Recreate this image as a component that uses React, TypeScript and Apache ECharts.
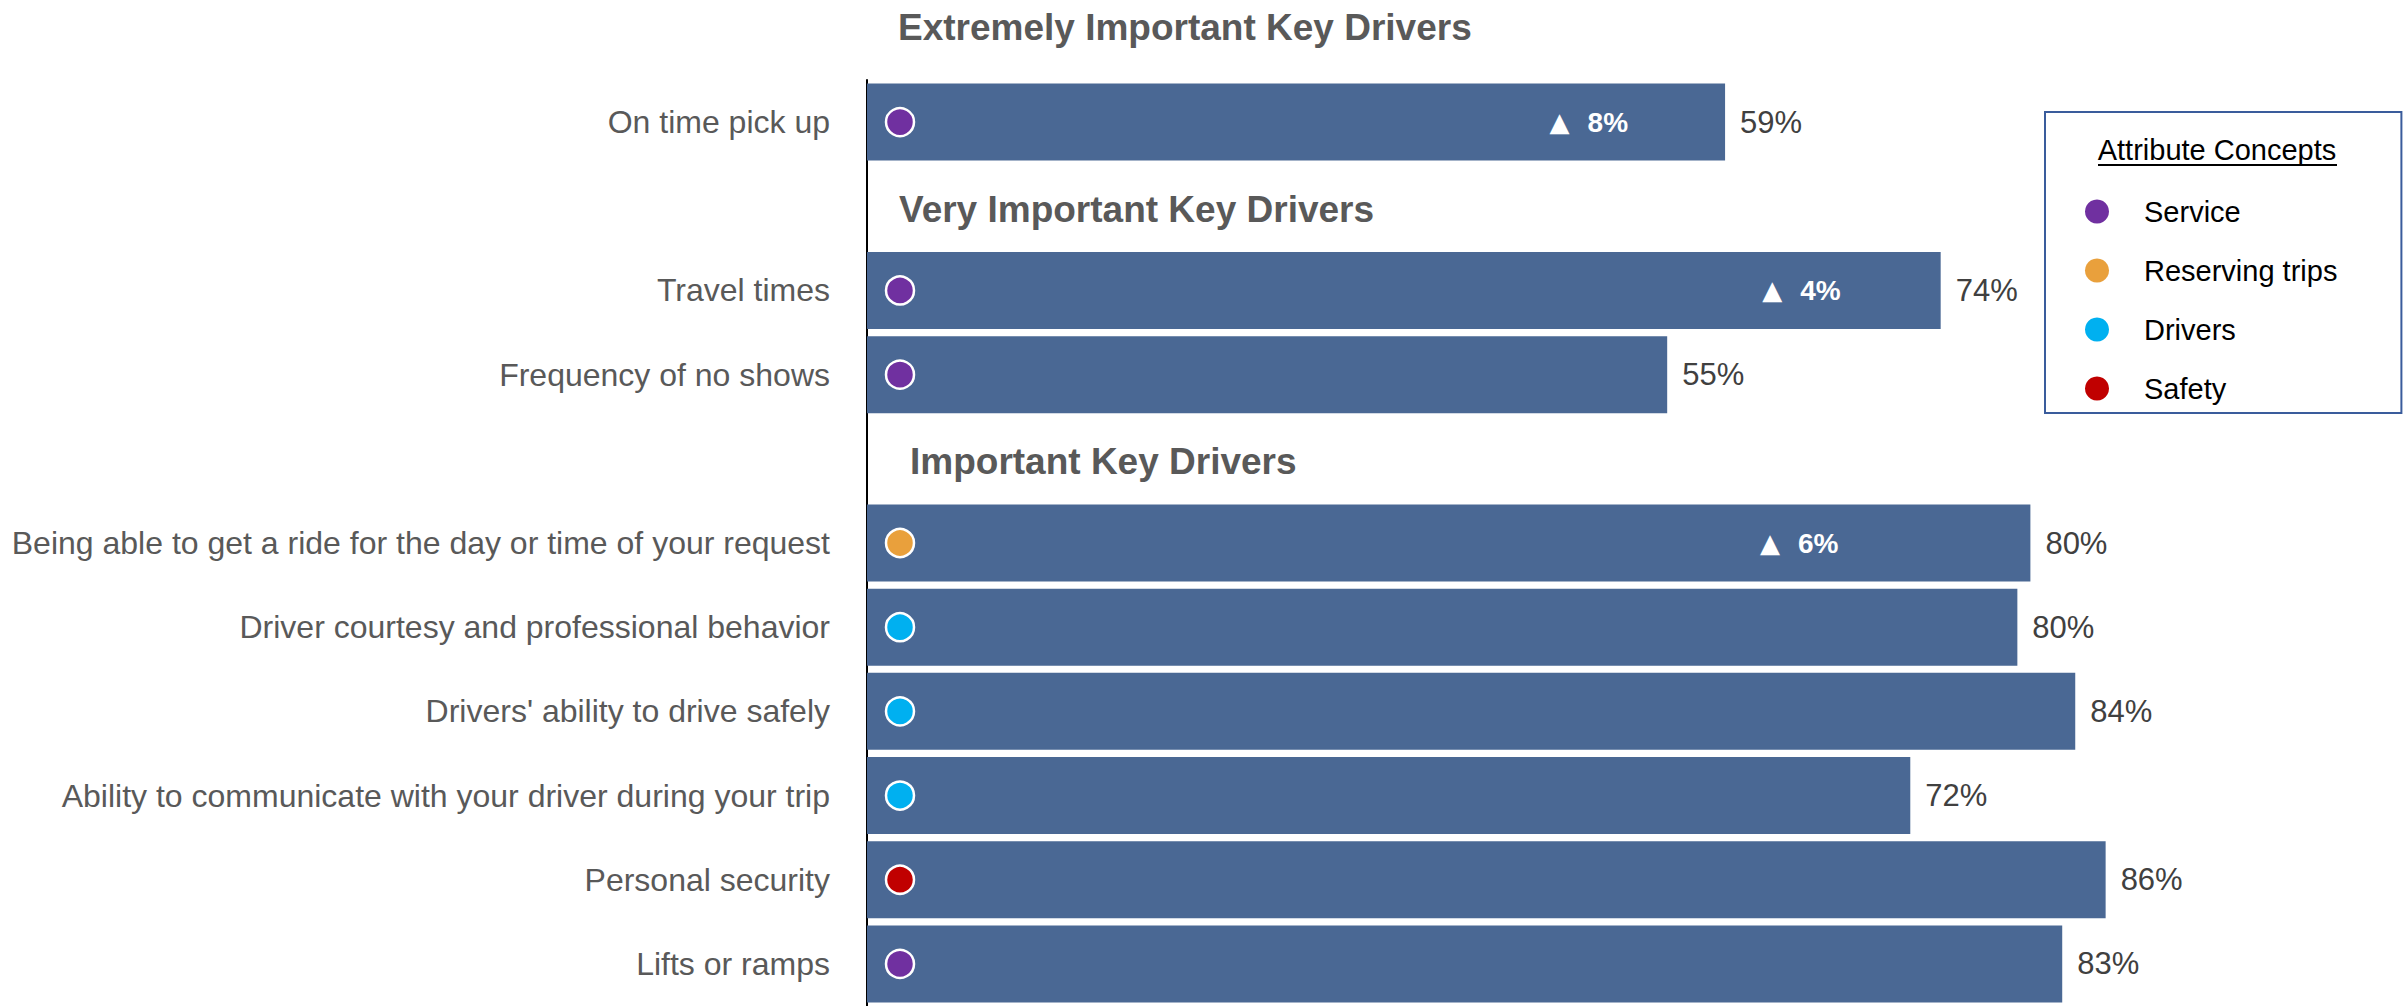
import React, { useEffect, useRef } from "react";
import * as echarts from "echarts";

// ---- Data ----
const categories = [
  "On time pick up",
  "",
  "Travel times",
  "Frequency of no shows",
  "",
  "Being able to get a ride for the day or time of your request",
  "Driver courtesy and professional behavior",
  "Drivers' ability to drive safely",
  "Ability to communicate with your driver during your trip",
  "Personal security",
  "Lifts or ramps",
];
const values = [59.3, null, 74.2, 55.3, null, 80.4, 79.5, 83.5, 72.1, 85.6, 82.6];
const concepts = [
  "Service",
  null,
  "Service",
  "Service",
  null,
  "Reserving trips",
  "Drivers",
  "Drivers",
  "Drivers",
  "Safety",
  "Service",
];
const changes = [8, null, 4, null, null, 6, null, null, null, null, null];
const rowHeaders = [null, "Very Important Key Drivers", null, null, "Important Key Drivers", null, null, null, null, null, null];
const topHeader = "Extremely Important Key Drivers";
const conceptNames = ["Service", "Reserving trips", "Drivers", "Safety"];
const conceptColors = ["#7030A0", "#E9A03C", "#00B0F0", "#C00000"];
const legendTitle = "Attribute Concepts";

const FONT = "'Liberation Sans', Arial, Helvetica, sans-serif";

export default function App() {
  const ref = useRef<HTMLDivElement>(null);
  useEffect(() => {
    document.body.style.margin = "0";
    if (!ref.current) return;
    const chart = echarts.init(ref.current, null, { renderer: "svg" });

    // label distances inside bar for change labels (layout only)
    const changeDistance: Record<number, number> = { 0: 97, 2: 100, 5: 192 };
    const headerIndent: Record<number, number> = { 1: 32, 4: 43 };

    const conceptSeries = conceptNames.map((name, ci) => ({
      name,
      type: "scatter",
      z: 4,
      symbol: "circle",
      symbolSize: 28,
      symbolOffset: [33, 0],
      itemStyle: { color: conceptColors[ci], borderColor: "#ffffff", borderWidth: 2.5, opacity: 1 },
      data: concepts
        .map((c, i) => (c === name ? [0, i] : null))
        .filter((d) => d !== null),
      silent: true,
    }));

    const option: any = {
      animation: false,
      textStyle: { fontFamily: FONT },
      grid: { left: 867, top: 80, width: 1447, height: 929, containLabel: false },
      xAxis: { type: "value", min: 0, max: 100, show: false },
      yAxis: {
        type: "category",
        data: categories,
        inverse: true,
        offset: 2,
        axisLine: { show: true, lineStyle: { color: "#000000", width: 2 } },
        axisTick: { show: false },
        splitLine: { show: false },
        axisLabel: { fontSize: 32, color: "#595959", margin: 35, fontFamily: FONT },
      },
      legend: {
        data: conceptNames,
        orient: "vertical",
        left: 2045,
        top: 112,
        padding: [85, 64, 10, 40],
        borderColor: "#3A5C9C",
        borderWidth: 2,
        itemWidth: 24,
        itemHeight: 24,
        itemGap: 30,
        icon: "circle",
        selectedMode: false,
        itemStyle: { borderWidth: 0 },
        textStyle: { fontSize: 29, color: "#000000", fontFamily: FONT, padding: [0, 0, 0, 30] },
      },
      graphic: [
        {
          type: "text",
          left: 898,
          top: 9,
          style: { text: topHeader, font: `bold 37px ${FONT}`, fill: "#595959" },
        },
        {
          type: "text",
          x: 2217,
          y: 150,
          style: {
            text: legendTitle,
            font: `29px ${FONT}`,
            fill: "#000000",
            textAlign: "center",
            textVerticalAlign: "middle",
          },
        },
        {
          type: "line",
          shape: { x1: 2098, y1: 165, x2: 2337, y2: 165 },
          style: { stroke: "#000000", lineWidth: 2 },
        },
      ],
      series: [
        {
          name: "Score",
          type: "bar",
          barWidth: 77,
          z: 2,
          itemStyle: { color: "#4A6894" },
          data: values.map((v) => (v === null ? "-" : v)),
          label: {
            show: true,
            position: "right",
            distance: 15,
            fontSize: 31,
            color: "#404040",
            fontFamily: FONT,
            formatter: (p: any) => (typeof p.value === "number" ? `${Math.round(p.value)}%` : ""),
          },
          silent: true,
        },
        {
          name: "Change",
          type: "bar",
          barWidth: 77,
          barGap: "-100%",
          z: 3,
          itemStyle: { color: "rgba(0,0,0,0)" },
          data: values.map((v, i) =>
            changes[i] === null || v === null
              ? "-"
              : {
                  value: v,
                  change: changes[i],
                  label: { distance: changeDistance[i] ?? 100 },
                }
          ),
          label: {
            show: true,
            position: "insideRight",
            formatter: (p: any) => (p.data && p.data.change != null ? `{t|▲}{v|${p.data.change}%}` : ""),
            rich: {
              t: { fontSize: 26, color: "#ffffff", padding: [0, 18, 0, 0], fontFamily: "'DejaVu Sans', sans-serif" },
              v: { fontSize: 28, fontWeight: "bold", color: "#ffffff", fontFamily: FONT },
            },
          },
          silent: true,
        },
        {
          name: "Headers",
          type: "scatter",
          symbolSize: 0,
          z: 5,
          itemStyle: { opacity: 1 },
          data: rowHeaders
            .map((h, i) =>
              h === null ? null : { value: [0, i], name: h, label: { distance: headerIndent[i] ?? 36 } }
            )
            .filter((d) => d !== null),
          label: {
            show: true,
            position: "right",
            offset: [0, 3],
            formatter: (p: any) => p.name,
            fontSize: 37,
            fontWeight: "bold",
            color: "#595959",
            opacity: 1,
            fontFamily: FONT,
          },
          silent: true,
        },
        ...conceptSeries,
      ],
    };
    chart.setOption(option);
    return () => chart.dispose();
  }, []);
  return <div ref={ref} style={{ width: 2404, height: 1006 }} />;
}
